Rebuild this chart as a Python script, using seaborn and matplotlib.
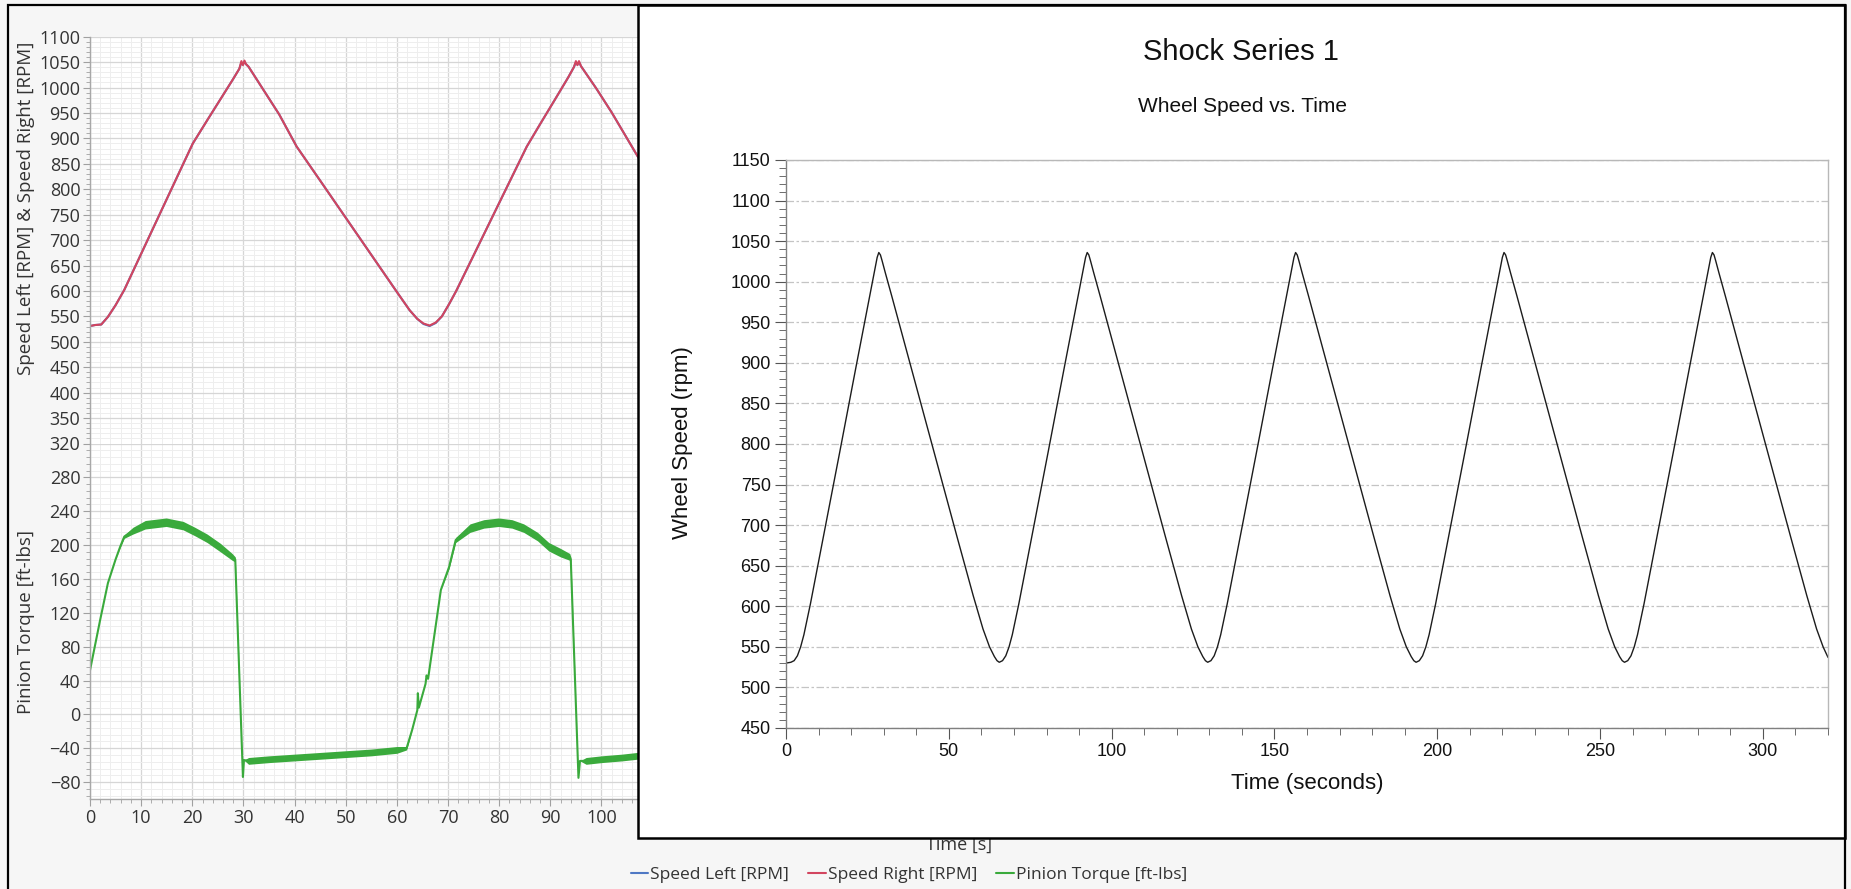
import matplotlib
matplotlib.use("Agg")
import matplotlib.pyplot as plt
from matplotlib.patches import Rectangle
from matplotlib.lines import Line2D
from matplotlib.ticker import MultipleLocator, FixedLocator
import seaborn as sns

# ---------------- data ----------------
# Left recorder trace: wheel speeds [RPM] vs time [s]
speed_time = [0, 1, 2.2, 3.5, 5, 6.7, 10, 14, 18, 20.1, 23, 26, 28, 29.2, 29.6, 29.9,
              30.2, 30.5, 31, 34, 37, 40.4, 45, 50, 55, 60, 62.5, 64, 65.2, 66.4, 67.6,
              68.8, 70.2, 71.6, 75, 80, 85.4, 88, 91, 93.5, 94.6, 95, 95.3, 95.6, 96,
              99, 102, 107, 110]
speed_right = [531, 533, 534, 549, 572, 602, 673, 759, 845, 890, 937, 985, 1017, 1037, 1052, 1044,
               1053, 1046, 1041, 994, 947, 884, 817, 744, 671, 598, 562, 545, 536, 532, 538,
               550, 574, 600, 670, 773, 884, 928, 978, 1020, 1040, 1052, 1044, 1052, 1042,
               998, 951, 866, 819]
speed_left = [531, 533, 534, 549, 572, 602, 673, 759, 845, 890, 937, 985, 1017, 1037, 1049, 1046,
              1050, 1046, 1041, 994, 947, 884, 817, 744, 671, 598, 562, 545, 535, 531, 537,
              550, 574, 600, 670, 773, 884, 928, 978, 1020, 1040, 1049, 1045, 1050, 1042,
              998, 951, 866, 819]

# Pinion torque [ft-lbs] with the half-width of its ripple band
torque_time = [0, 2, 3.5, 5, 5.9, 6.7, 8.4, 10.8, 14.9, 18.2, 20.5, 22.9, 25.5, 27.8, 28.4,
               29.9, 30.1, 31, 35, 40, 45, 50, 55, 60, 61.9, 63, 64.0, 64.1, 64.3, 65.6,
               65.8, 66.1, 68.6, 70.2, 71.5, 74.3, 77, 79.9, 82.5, 84.8, 87.5, 89.7, 92,
               93.8, 94.0, 95.5, 95.8, 97, 100, 104, 110]
torque_value = [52, 112, 155, 183, 198, 210, 217, 224, 227, 223, 216, 208, 197, 186, 183,
                -74, -54, -55, -53, -51, -49, -47, -45, -42, -40, -18, 5, 25, 8, 36,
                46, 42, 147, 174, 206, 220, 225, 227, 225, 220, 210, 198, 191,
                186, 183, -75, -55, -55, -53, -51, -47]
torque_ripple = [0, 0, 0, 0, 1, 2, 4, 5, 5, 5, 5, 5, 5, 4, 3,
                 0, 0, 4, 4, 4, 4, 4, 4, 4, 2, 0, 0, 0, 0, 0,
                 0, 0, 0, 2, 3, 5, 5, 5, 5, 5, 5, 5, 5,
                 4, 3, 0, 0, 4, 4, 4, 4]

# Shock Series 1: wheel speed [rpm] vs time [s]
wheel_time = [0,
              1.5, 2.5, 3.5, 4.5, 5.5, 7.5, 11.5, 16.5, 21.5, 24.5, 26.5, 27.5, 28, 28.5, 29, 29.5, 30.5, 32.5, 37.5, 42.5, 47.5, 52.5, 57.5, 60.5, 62.5, 64, 64.8,
              65.5, 66.5, 67.5, 68.5, 69.5, 71.5, 75.5, 80.5, 85.5, 88.5, 90.5, 91.5, 92, 92.5, 93, 93.5, 94.5, 96.5, 101.5, 106.5, 111.5, 116.5, 121.5, 124.5, 126.5, 128, 128.8,
              129.5, 130.5, 131.5, 132.5, 133.5, 135.5, 139.5, 144.5, 149.5, 152.5, 154.5, 155.5, 156, 156.5, 157, 157.5, 158.5, 160.5, 165.5, 170.5, 175.5, 180.5, 185.5, 188.5, 190.5, 192, 192.8,
              193.5, 194.5, 195.5, 196.5, 197.5, 199.5, 203.5, 208.5, 213.5, 216.5, 218.5, 219.5, 220, 220.5, 221, 221.5, 222.5, 224.5, 229.5, 234.5, 239.5, 244.5, 249.5, 252.5, 254.5, 256, 256.8,
              257.5, 258.5, 259.5, 260.5, 261.5, 263.5, 267.5, 272.5, 277.5, 280.5, 282.5, 283.5, 284, 284.5, 285, 285.5, 286.5, 288.5, 293.5, 298.5, 303.5, 308.5, 313.5, 316.5, 318.5, 320]
wheel_speed = [530,
               531, 533, 539, 550, 565, 603, 686, 790, 895, 957, 998, 1019, 1030, 1036, 1033, 1026, 1011, 982, 908, 834, 760, 686, 613, 572, 550, 538, 533,
               531, 533, 539, 550, 565, 603, 686, 790, 895, 957, 998, 1019, 1030, 1036, 1033, 1026, 1011, 982, 908, 834, 760, 686, 613, 572, 550, 538, 533,
               531, 533, 539, 550, 565, 603, 686, 790, 895, 957, 998, 1019, 1030, 1036, 1033, 1026, 1011, 982, 908, 834, 760, 686, 613, 572, 550, 538, 533,
               531, 533, 539, 550, 565, 603, 686, 790, 895, 957, 998, 1019, 1030, 1036, 1033, 1026, 1011, 982, 908, 834, 760, 686, 613, 572, 550, 538, 533,
               531, 533, 539, 550, 565, 603, 686, 790, 895, 957, 998, 1019, 1030, 1036, 1033, 1026, 1011, 982, 908, 834, 760, 686, 613, 572, 550, 537]

speed_ticks = list(range(350, 1101, 50))
torque_ticks = list(range(-80, 321, 40))
wheel_yticks = list(range(450, 1151, 50))
wheel_xticks = list(range(0, 301, 50))

# ---------------- styling ----------------
sns.set_theme(style="white")
UI_FONT = ["Open Sans", "DejaVu Sans"]
PLOT_FONT = ["Liberation Sans", "DejaVu Sans"]
plt.rcParams["font.family"] = UI_FONT

BLUE, RED, GREEN = "#4f78c4", "#d2455f", "#3aaa3c"
W, H = 1851, 889

fig = plt.figure(figsize=(W / 100, H / 100), dpi=100, facecolor="#f6f6f6")


def box(x0, y0, x1, y1):
    return [x0 / W, 1 - y1 / H, (x1 - x0) / W, (y1 - y0) / H]


# ---------- recorder style stacked chart ----------
ax_s = fig.add_axes(box(90, 36.7, 1829, 443.5), zorder=0)
ax_t = fig.add_axes(box(90, 443.5, 1829, 799), zorder=0, sharex=ax_s)

for ax in (ax_s, ax_t):
    ax.set_facecolor("white")
    for side in ("top", "right"):
        ax.spines[side].set_visible(False)
    for side in ("left", "bottom"):
        ax.spines[side].set_color("#a8a8a8")
        ax.spines[side].set_linewidth(1.0)
    ax.set_axisbelow(True)
    ax.xaxis.set_major_locator(MultipleLocator(10))
    ax.xaxis.set_minor_locator(MultipleLocator(2))
    ax.grid(which="major", color="#d6d6d6", linewidth=0.9)
    ax.grid(which="minor", color="#eeeeee", linewidth=0.7)
    ax.tick_params(which="both", direction="out", color="#a0a0a0", labelsize=13,
                   labelcolor="#333333", pad=2)
    ax.tick_params(which="major", length=5, width=0.8)
    ax.tick_params(which="minor", length=3, width=0.6)
    ax.tick_params(axis="x", which="both", bottom=True)
    ax.tick_params(axis="y", which="both", left=True)

ax_s.set_xlim(0, 340)
ax_s.set_ylim(300, 1100)
ax_s.yaxis.set_major_locator(FixedLocator(speed_ticks))
ax_s.yaxis.set_minor_locator(MultipleLocator(10))
ax_s.spines["bottom"].set_visible(False)
ax_s.tick_params(axis="x", which="both", bottom=False, labelbottom=False)

ax_t.set_ylim(-100, 320)
ax_t.yaxis.set_major_locator(FixedLocator(torque_ticks))
ax_t.yaxis.set_minor_locator(MultipleLocator(8))

sns.lineplot(x=speed_time, y=speed_left, ax=ax_s, color=BLUE, linewidth=1.5, estimator=None)
sns.lineplot(x=speed_time, y=speed_right, ax=ax_s, color=RED, linewidth=1.5, estimator=None)

lo = [v - r for v, r in zip(torque_value, torque_ripple)]
hi = [v + r for v, r in zip(torque_value, torque_ripple)]
ax_t.fill_between(torque_time, lo, hi, color=GREEN, linewidth=0)
sns.lineplot(x=torque_time, y=torque_value, ax=ax_t, color=GREEN, linewidth=1.5, estimator=None)

ax_s.set_xlabel("")
ax_s.set_ylabel("")
ax_t.set_ylabel("")
ax_t.set_xlabel("Time [s]", fontsize=13, color="#333333")
ax_t.xaxis.set_label_coords(0.5, -(836 - 799) / 355.5)

fig.text(26 / W, 1 - 208 / H, "Speed Left [RPM] & Speed Right [RPM]", rotation=90,
         ha="center", va="center", fontsize=13.5, color="#333333")
fig.text(26 / W, 1 - 622 / H, "Pinion Torque [ft-lbs]", rotation=90,
         ha="center", va="center", fontsize=13.5, color="#333333")

handles = [Line2D([], [], color=c, linewidth=1.5) for c in (BLUE, RED, GREEN)]
fig.legend(handles, ["Speed Left [RPM]", "Speed Right [RPM]", "Pinion Torque [ft-lbs]"],
           loc="center", bbox_to_anchor=(909 / W, 1 - 875 / H), ncol=3, frameon=False,
           fontsize=12.5, handlelength=1.0, handletextpad=0.12, columnspacing=1.1,
           labelcolor="#333333")

# ---------- overlaid report panel ----------
fig.add_artist(Rectangle((638 / W, 1 - 838 / H), (1845 - 638) / W, (838 - 5) / H,
                         transform=fig.transFigure, facecolor="white", edgecolor="black",
                         linewidth=1.8, zorder=1))

ax_w = fig.add_axes(box(786, 160, 1828, 728), zorder=2)
ax_w.set_facecolor("white")
sns.lineplot(x=wheel_time, y=wheel_speed, ax=ax_w, color="#1c1c1c", linewidth=1.0, estimator=None)
ax_w.set_xlim(0, 320)
ax_w.set_ylim(450, 1150)
ax_w.xaxis.set_major_locator(FixedLocator(wheel_xticks))
ax_w.xaxis.set_minor_locator(MultipleLocator(10))
ax_w.yaxis.set_major_locator(FixedLocator(wheel_yticks))
ax_w.yaxis.set_minor_locator(MultipleLocator(10))
ax_w.grid(axis="y", which="major", color="#c4c4c4", linewidth=0.9, linestyle=(0, (6, 2, 2, 2)))
ax_w.grid(axis="x", visible=False)
for side in ("left", "bottom"):
    ax_w.spines[side].set_color("#808080")
    ax_w.spines[side].set_linewidth(1.0)
for side in ("top", "right"):
    ax_w.spines[side].set_color("#b8b8b8")
    ax_w.spines[side].set_linewidth(1.0)
ax_w.tick_params(which="both", direction="out", color="#555555", labelsize=13,
                 labelcolor="#111111", labelfontfamily="Liberation Sans", left=True, bottom=True)
ax_w.tick_params(which="major", length=8, width=0.8, pad=3)
ax_w.tick_params(which="minor", length=5, width=0.6)
ax_w.set_xlabel("")
ax_w.set_ylabel("")

fig.text(1241 / W, 1 - 52 / H, "Shock Series 1", ha="center", va="center",
         fontsize=21, family=PLOT_FONT, color="#111111", zorder=3)
fig.text(1242 / W, 1 - 107 / H, "Wheel Speed vs. Time", ha="center", va="center",
         fontsize=15, family=PLOT_FONT, color="#111111", zorder=3)
fig.text(682 / W, 1 - 443 / H, "Wheel Speed (rpm)", rotation=90, ha="center", va="center",
         fontsize=16, family=PLOT_FONT, color="#111111", zorder=3)
fig.text(1307 / W, 1 - 783 / H, "Time (seconds)", ha="center", va="center",
         fontsize=16, family=PLOT_FONT, color="#111111", zorder=3)

# outer window frame
fig.add_artist(Rectangle((8 / W, -0.02), (1845 - 8) / W, (1 - 5 / H) + 0.02,
                         transform=fig.transFigure, fill=False, edgecolor="black",
                         linewidth=1.6, zorder=5))

fig.savefig("out.png", dpi=100, facecolor=fig.get_facecolor())
